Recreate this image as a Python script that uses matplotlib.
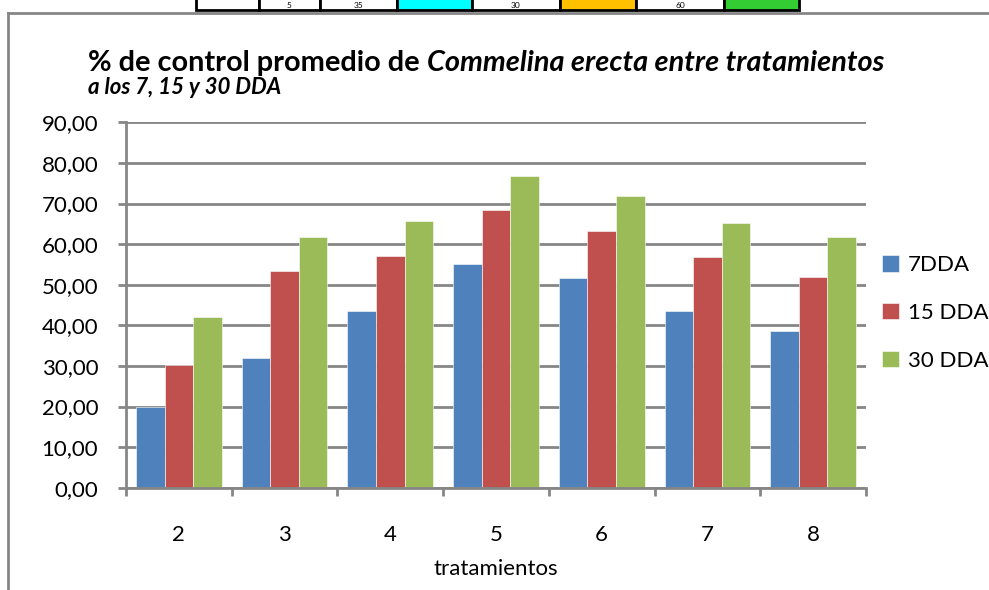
import numpy as np
import matplotlib
matplotlib.use("Agg")
import matplotlib.pyplot as plt
from matplotlib.lines import Line2D
from matplotlib.patches import Rectangle

plt.rcParams["font.family"] = ["Lato", "DejaVu Sans"]

# -------- data --------
tratamientos = ["2", "3", "4", "5", "6", "7", "8"]
dda7 = [20.0, 32.0, 43.5, 55.2, 51.7, 43.5, 38.6]
dda15 = [30.1, 53.4, 57.0, 68.3, 63.2, 56.7, 51.8]
dda30 = [42.0, 61.8, 65.6, 76.8, 71.8, 65.3, 61.8]
series_names = ["7DDA", "15 DDA", "30 DDA"]
colors = ["#4F81BD", "#C0504D", "#9BBB59"]
y_ticks = np.arange(0, 100, 10)

# strip of the table above the chart (partly cut off)
cell_edges = [196, 259, 320, 397, 472, 560, 636, 724, 799]
cell_texts = ["", "5", "35", "", "30", "", "60", ""]
cell_fills = ["white", "white", "white", "#00FFFF", "white", "#FFC000", "white", "#33CC33"]

W, H = 989, 590
FS = 16
fig = plt.figure(figsize=(W / 100, H / 100), dpi=100)


def fx(px):
    return px / W


def fy(py):
    return 1 - py / H


# table strip
for i in range(len(cell_texts)):
    x0, x1 = cell_edges[i], cell_edges[i + 1]
    fig.add_artist(Rectangle((fx(x0), fy(10)), fx(x1) - fx(x0), fy(-5) - fy(10),
                             facecolor=cell_fills[i], edgecolor="black", lw=2,
                             transform=fig.transFigure))
    if cell_texts[i]:
        fig.text(fx((x0 + x1) / 2), fy(5), cell_texts[i], ha="center", va="center",
                 fontsize=6)

# chart area border (top and left visible)
grey = "#868686"
fig.add_artist(Line2D([fx(8), 1], [fy(13), fy(13)], color=grey, lw=2))
fig.add_artist(Line2D([fx(8), fx(8)], [fy(13), 0], color=grey, lw=2))

# -------- axes --------
ax = fig.add_axes([fx(126), fy(487.7), fx(866) - fx(126), fy(122.3) - fy(487.7)])
x = np.arange(len(tratamientos))
bw = 0.27
for k, (vals, name) in enumerate(zip([dda7, dda15, dda30], series_names)):
    ax.bar(x + (k - 1) * bw, vals, width=bw, color=colors[k], label=name,
           edgecolor="white", linewidth=0.4, zorder=3)

ax.set_xlim(-0.5, len(tratamientos) - 0.5)
ax.set_ylim(0, 90)
ax.set_yticks(y_ticks)
ax.set_yticklabels([f"{v:.2f}".replace(".", ",") for v in y_ticks], fontsize=FS)
ax.set_xticks(x)
ax.set_xticklabels(tratamientos, fontsize=FS)
ax.set_xticks(np.arange(-0.5, len(tratamientos)), minor=True)
ax.tick_params(axis="x", which="major", length=0, pad=27)
ax.tick_params(axis="x", which="minor", length=6, width=2, color=grey, direction="out")
ax.tick_params(axis="y", length=6, width=2, color=grey, pad=14)
ax.grid(axis="y", color=grey, lw=2, zorder=0)
for s in ["top", "right"]:
    ax.spines[s].set_visible(False)
for s in ["left", "bottom"]:
    ax.spines[s].set_color(grey)
    ax.spines[s].set_linewidth(2)
ax.spines["bottom"].set_zorder(4)
ax.set_xlabel("tratamientos", fontsize=FS, labelpad=10)

ax.legend(loc="center left", bbox_to_anchor=(fx(882), fy(313)), bbox_transform=fig.transFigure,
          frameon=False, fontsize=FS, handlelength=0.75, handleheight=0.75,
          handletextpad=0.4, labelspacing=1.25, borderaxespad=0, borderpad=0)

# -------- title: bold + bold italic --------
fig.canvas.draw()
r = fig.canvas.get_renderer()
t1 = fig.text(fx(88), fy(71), "% de control promedio de ", fontsize=20.8, fontweight="bold",
              ha="left", va="baseline")
bb = t1.get_window_extent(renderer=r)
fig.text(bb.x1 / W, fy(71), "Commelina erecta entre tratamientos", fontsize=20.8,
         fontweight="bold", fontstyle="italic", ha="left", va="baseline")
fig.text(fx(88), fy(94), "a los 7, 15 y 30 DDA", fontsize=16, fontweight="bold",
         fontstyle="italic", ha="left", va="baseline")

fig.savefig("out.png", dpi=100)
